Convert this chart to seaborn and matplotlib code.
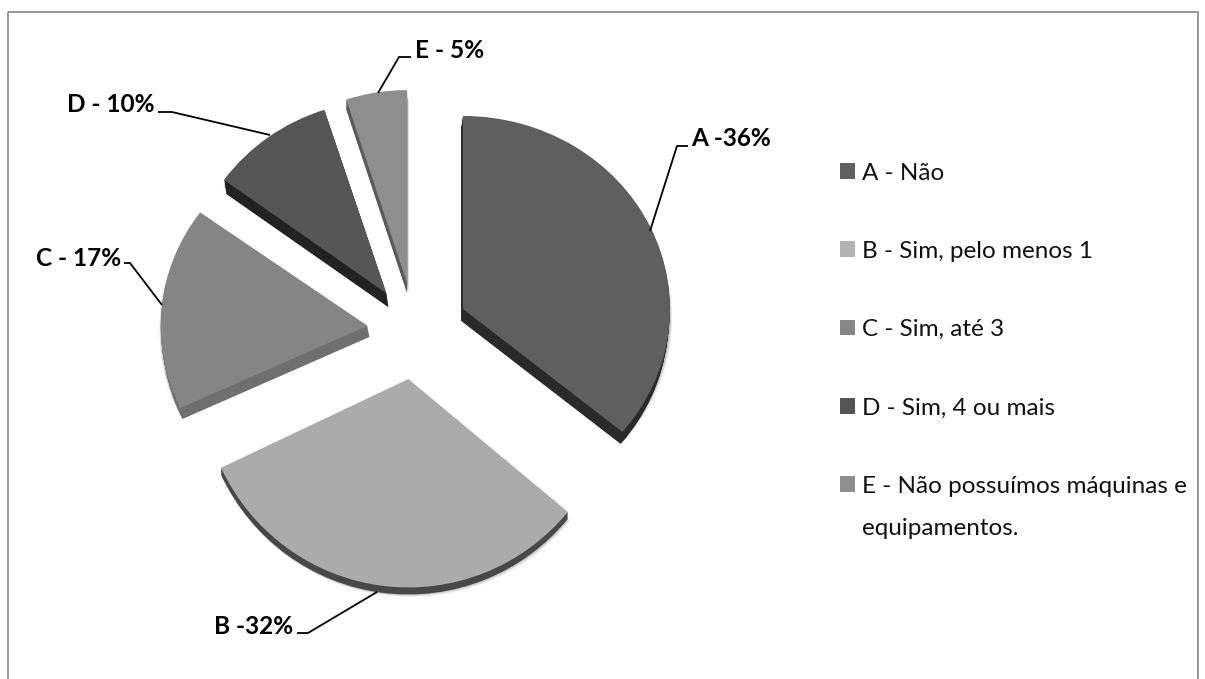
import matplotlib
matplotlib.use("Agg")
import matplotlib.pyplot as plt
from matplotlib.patches import Patch, Rectangle
from matplotlib.transforms import Affine2D
import seaborn as sns

categories = ["A - Não", "B - Sim, pelo menos 1", "C - Sim, até 3", "D - Sim, 4 ou mais",
              "E - Não possuímos máquinas e"]
legend_extra = "equipamentos."
values = [36, 32, 17, 10, 5]
point_labels = ["A -36%", "B -32%", "C - 17%", "D - 10%", "E - 5%"]

top_colors = ["#5f5f5f", "#ababab", "#858585", "#565656", "#8e8e8e"]
rim_colors = ["#2a2a2a", "#484848", "#6f6f6f", "#222222", "#5a5a5a"]
legend_colors = ["#616161", "#b2b2b2", "#868686", "#555555", "#8e8e8e"]
explode = [0.256, 0.256, 0.23, 0.235, 0.246]
depths = [12, 7, 11, 14, 10]
x_stretch = [1.0, 1.0, 1.0, 0.97, 0.95]
y_stretch = [1.0, 1.08, 1.0, 1.0, 1.0]
rim_lean = [-0.15, 0.0, 0.2, 0.15, 0.0]

W, H = 1205, 679
CX, CY, RX, RY = 415, 330, 207, 193

sns.set_theme(style="white")
plt.rcParams["font.family"] = ["Lato", "DejaVu Sans"]

fig = plt.figure(figsize=(W / 100, H / 100), dpi=100, facecolor="white")
ax = fig.add_axes([0, 0, 1, 1])
ov = fig.add_axes([0, 0, 1, 1], facecolor="none")


def draw_layer(colors, dx=0.0, dy=0.0, alpha=1.0, limit=None, lean=0.0):
    wedges, _ = ax.pie(values, explode=explode, startangle=90, counterclock=False,
                       colors=colors, radius=1.0, center=(dx / RX, -dy / RY),
                       frame=False, wedgeprops={"linewidth": 0, "alpha": alpha})
    for i, w in enumerate(wedges):
        cx, cy = w.center
        shape = (Affine2D().translate(-cx, -cy).scale(x_stretch[i], y_stretch[i])
                 .translate(cx + lean * rim_lean[i] / RX, cy))
        w.set_transform(shape + ax.transData)
        if limit is not None and dy > limit[i]:
            w.set_visible(False)
    return wedges


# soft shadow below the slices
for off in (4, 3, 2, 1):
    for d in range(0, 3):
        draw_layer(["#000000"] * 5, dx=off - 2, dy=off + d + 4, alpha=0.035)
# extruded side
for d in range(15, 0, -1):
    draw_layer(rim_colors, dy=d, limit=depths, lean=d)
# top faces
draw_layer(top_colors)

ax.set_aspect("auto")
ax.set_xlim(-CX / RX, (W - CX) / RX)
ax.set_ylim(-(H - CY) / RY, CY / RY)
ax.axis("off")

ov.set_xlim(0, W)
ov.set_ylim(H, 0)
ov.axis("off")

# frame
ov.add_patch(Rectangle((8, 11.5), 1190, 700, fill=False, edgecolor="#8f8f8f", linewidth=1.3))

# leader lines
leaders = [
    [(650, 231), (677, 146), (688, 146)],
    [(377, 592), (308, 633), (297, 633)],
    [(162, 305), (130, 263), (124, 263)],
    [(270, 135), (172, 112), (158, 112)],
    [(378, 93), (399, 57), (411, 57)],
]
for pts in leaders:
    ov.plot([p[0] for p in pts], [p[1] for p in pts], color="black", lw=1.3,
            solid_capstyle="butt", solid_joinstyle="miter")

label_pos = [(691, 139), (214, 626), (36, 258), (67, 104), (415, 50)]
for txt, (x, y) in zip(point_labels, label_pos):
    ov.text(x, y, txt, fontsize=17.6, fontweight="bold", color="black", ha="left", va="center")

# legend
handles = [Patch(facecolor=c, edgecolor="none") for c in legend_colors]
fs = 17.5
fpx = fs * 100 / 72
ov.legend(handles, categories, loc="upper left", bbox_to_anchor=(840 / W, 1 - 162.5 / H),
          bbox_transform=fig.transFigure, frameon=False, fontsize=fs,
          labelspacing=(81.6 - fpx) / fpx, handlelength=15 / fpx, handleheight=15 / fpx,
          handletextpad=7 / fpx, borderpad=0, borderaxespad=0, labelcolor="#111111")
ov.text(862, 535, legend_extra, fontsize=fs, color="#111111", ha="left", va="baseline")

fig.savefig("out.png", dpi=100, facecolor="white")
